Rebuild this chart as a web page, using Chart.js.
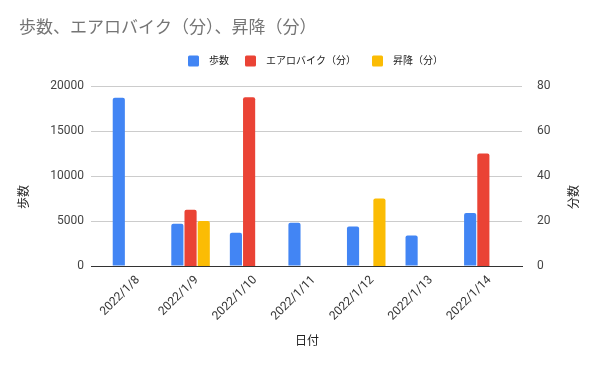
<!DOCTYPE html>
<html>
<head>
<meta charset="utf-8">
<script src="https://cdn.jsdelivr.net/npm/chart.js@4.4.0/dist/chart.umd.min.js"></script>
<style>
  html, body { margin: 0; padding: 0; background: #fff; }
</style>
</head>
<body>
<canvas id="c" width="600" height="367"></canvas>
<script>
// data
const dates = ["2022/1/8", "2022/1/9", "2022/1/10", "2022/1/11", "2022/1/12", "2022/1/13", "2022/1/14"];
const steps = [18700, 4700, 3700, 4800, 4400, 3400, 5900];
const bikeMin = [null, 25, 75, null, null, null, 50];
const stairsMin = [null, 20, null, null, 30, null, null];
const seriesNames = ["歩数", "エアロバイク（分）", "昇降（分）"];
const seriesColors = ["#4285F4", "#EA4335", "#FBBC04"];
const chartTitle = "歩数、エアロバイク（分）、昇降（分）";
const xTitle = "日付";
const yLeftTitle = "歩数";
const yRightTitle = "分数";

const FONT = 'Roboto, "Noto Sans CJK JP", sans-serif';

const toPoints = (arr) => arr.map((v, i) => ({ x: i, y: v }));

function barSet(idx, values, axis) {
  return {
    label: seriesNames[idx],
    data: toPoints(values),
    yAxisID: axis,
    backgroundColor: seriesColors[idx],
    borderRadius: { topLeft: 2, topRight: 2 },
    borderSkipped: "start",
    categoryPercentage: 0.676,
    barPercentage: 0.92,
  };
}

// title, legend and axis titles drawn by hand to sit where the reference has them
const decor = {
  id: "decor",
  afterDraw(chart) {
    const ctx = chart.ctx;
    ctx.save();
    ctx.textBaseline = "middle";

    ctx.fillStyle = "#757575";
    ctx.font = "17px " + FONT;
    ctx.textAlign = "left";
    ctx.fillText(chartTitle, 19, 29);

    ctx.font = "10px " + FONT;
    let x = 188;
    chart.data.datasets.forEach((ds) => {
      ctx.fillStyle = ds.backgroundColor;
      ctx.beginPath();
      ctx.roundRect(x, 55.5, 11, 11, 1.5);
      ctx.fill();
      x += 21;
      ctx.fillStyle = "#222";
      ctx.fillText(ds.label, x, 61);
      x += ctx.measureText(ds.label).width + 16;
    });

    ctx.font = "12px " + FONT;
    ctx.fillStyle = "#222";
    ctx.textAlign = "center";
    ctx.fillText(xTitle, 307, 342);

    [[25, yLeftTitle], [575, yRightTitle]].forEach(([px, txt]) => {
      ctx.save();
      ctx.translate(px, 197);
      ctx.rotate(-Math.PI / 2);
      ctx.fillText(txt, 0, 0);
      ctx.restore();
    });
    ctx.restore();
  },
};

const tickFont = { family: FONT, size: 12 };

new Chart(document.getElementById("c"), {
  type: "bar",
  data: {
    datasets: [
      barSet(0, steps, "y"),
      barSet(1, bikeMin, "y1"),
      barSet(2, stairsMin, "y1"),
    ],
  },
  options: {
    responsive: false,
    animation: false,
    layout: { padding: { top: 86, left: 0, right: 0, bottom: 0 } },
    plugins: {
      legend: { display: false },
      title: { display: false },
      tooltip: { enabled: false },
    },
    scales: {
      x: {
        type: "linear",
        offset: false,
        min: -0.7,
        max: 6.66,
        afterBuildTicks: (s) => { s.ticks = dates.map((d, i) => ({ value: i })); },
        afterFit: (s) => { s.height = 101; },
        grid: { display: false, drawTicks: false },
        border: { display: true, color: "#333", width: 1 },
        ticks: {
          callback: (v) => dates[v],
          minRotation: 45,
          maxRotation: 45,
          padding: 7,
          labelOffset: 6,
          color: "#333",
          font: tickFont,
        },
      },
      y: {
        position: "left",
        min: 0,
        max: 20000,
        ticks: { stepSize: 5000, padding: 7, color: "#444", font: tickFont, callback: (v) => String(v) },
        grid: { color: "#cccccc", drawTicks: false },
        border: { display: false },
        afterFit: (s) => { s.width = 91; },
      },
      y1: {
        position: "right",
        min: 0,
        max: 80,
        ticks: { stepSize: 20, padding: 7, color: "#444", font: tickFont, callback: (v) => String(v) },
        grid: { display: false },
        border: { display: false },
        afterFit: (s) => { s.width = 78; },
      },
    },
  },
  plugins: [decor],
});
</script>
</body>
</html>
